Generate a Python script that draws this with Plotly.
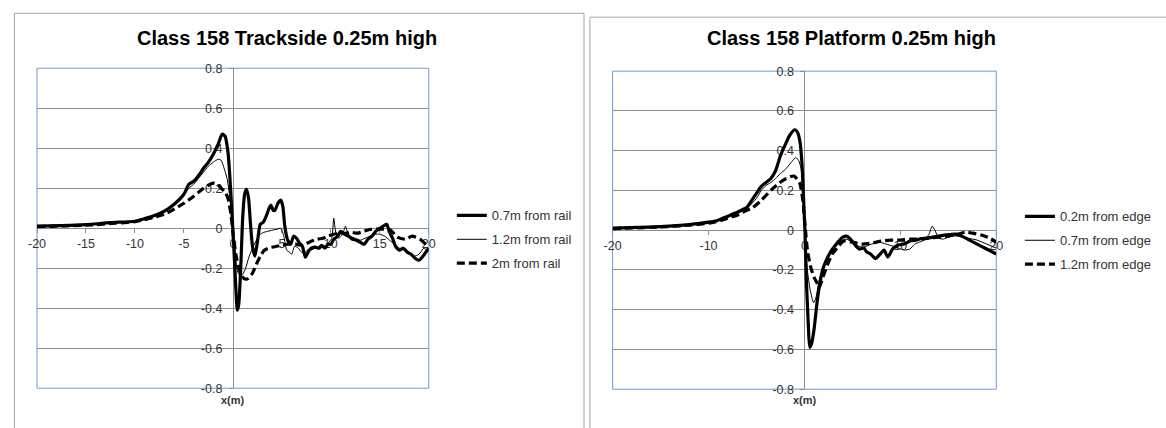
import plotly.graph_objects as go

W, H = 1166, 428

# ---------------- Trackside, 0.25 m high ----------------
ts_x_07 = [-20, -17.5, -15, -12.5, -10, -9, -8, -7, -6, -5, -4.5, -4, -3.4, -3, -2.5, -2, -1.5, -1.1,
           -0.8, -0.5, -0.3, -0.1, 0.1, 0.3, 0.45, 0.6, 0.8, 1.0, 1.2, 1.4, 1.6, 1.8, 2.0, 2.25, 2.5,
           2.8, 3.1, 3.4, 3.7, 3.9, 4.1, 4.3, 4.6, 4.9, 5.1, 5.3, 5.6, 5.9, 6.2, 6.5, 6.8, 7.1, 7.4,
           7.8, 8.1, 8.4, 8.8, 9.1, 9.4, 9.7, 10.0, 10.3, 10.7, 11.0, 11.4, 11.8, 12.2, 12.6, 13.0,
           13.4, 13.8, 14.2, 14.6, 15.0, 15.4, 15.7, 16.0, 16.3, 16.6, 17.0, 17.4, 17.8, 18.2, 18.6,
           19.0, 19.4, 19.7, 20.0]
ts_y_07 = [0.010, 0.013, 0.018, 0.028, 0.035, 0.048, 0.063, 0.085, 0.120, 0.170, 0.220, 0.235, 0.270,
           0.300, 0.330, 0.370, 0.420, 0.470, 0.460, 0.380, 0.250, 0.080, -0.100, -0.300, -0.410,
           -0.380, -0.200, 0.050, 0.170, 0.195, 0.150, 0.020, -0.090, -0.140, -0.070, 0.020, 0.030,
           0.060, 0.100, 0.115, 0.090, 0.090, 0.125, 0.140, 0.110, 0.010, -0.060, -0.080, -0.040,
           -0.050, -0.075, -0.090, -0.145, -0.110, -0.100, -0.095, -0.100, -0.087, -0.100, -0.080,
           -0.080, -0.055, -0.040, -0.015, -0.030, -0.040, -0.055, -0.060, -0.070, -0.080, -0.055,
           -0.040, -0.015, 0.000, 0.012, 0.020, -0.020, -0.050, -0.090, -0.110, -0.100, -0.120,
           -0.130, -0.150, -0.160, -0.140, -0.120, -0.100]

ts_x_12 = [-20, -15, -12, -10, -9, -8, -7, -6, -5, -4.5, -4, -3.5, -3, -2.5, -2, -1.5, -1.2, -0.9,
           -0.6, -0.3, 0, 0.2, 0.35, 0.5, 0.8, 1.0, 1.3, 1.6, 2.0, 2.4, 2.8, 3.2, 3.6, 4.0, 4.5, 4.9,
           5.2, 5.5, 5.8, 6.0, 6.3, 6.7, 7.0, 7.4, 7.8, 8.2, 8.6, 9.0, 9.4, 9.8, 10.1, 10.3, 10.5, 10.8,
           11.2, 11.5, 11.7, 12.0, 12.5, 13.0, 13.5, 14.0, 14.5, 15.0, 15.5, 16.0, 16.5, 17.0, 17.5,
           18.0, 18.5, 19.0, 19.5, 20.0]
ts_y_12 = [0.010, 0.018, 0.028, 0.035, 0.048, 0.060, 0.085, 0.115, 0.165, 0.200, 0.220, 0.250, 0.280,
           0.310, 0.330, 0.345, 0.340, 0.300, 0.250, 0.150, 0.000, -0.100, -0.180, -0.220, -0.240,
           -0.230, -0.200, -0.150, -0.100, -0.060, -0.030, -0.020, -0.015, -0.010, -0.005, 0.000,
           -0.040, -0.110, -0.120, -0.130, -0.090, -0.100, -0.120, -0.120, -0.100, -0.090, -0.100,
           -0.080, -0.090, -0.070, -0.050, 0.050, -0.020, -0.050, -0.030, 0.010, -0.020, -0.040,
           -0.050, -0.060, -0.050, -0.040, -0.030, -0.030, -0.040, -0.060, -0.080, -0.100, -0.100,
           -0.120, -0.140, -0.130, -0.100, -0.120]

ts_x_20 = [-20, -15, -12, -10, -9, -8, -7, -6, -5, -4, -3, -2.5, -2, -1.6, -1.2, -0.8, -0.5, -0.2, 0,
           0.3, 0.6, 1.0, 1.3, 1.6, 2.0, 2.4, 2.8, 3.2, 3.6, 4.0, 5.0, 5.6, 6.4, 7.1, 8.0, 8.6, 9.2,
           9.7, 10.3, 10.8, 11.5, 12.0, 12.7, 13.1, 13.7, 14.2, 15.3, 16.1, 16.8, 17.6, 18.3, 19.1,
           19.8, 20.0]
ts_y_20 = [0.008, 0.015, 0.025, 0.033, 0.043, 0.055, 0.070, 0.095, 0.125, 0.160, 0.200, 0.215, 0.225,
           0.220, 0.200, 0.180, 0.150, 0.070, -0.020, -0.130, -0.200, -0.245, -0.255, -0.250, -0.225,
           -0.180, -0.140, -0.110, -0.100, -0.095, -0.085, -0.080, -0.080, -0.085, -0.065, -0.055,
           -0.050, -0.040, -0.030, -0.025, -0.025, -0.020, -0.025, -0.020, -0.010, -0.005, -0.005,
           -0.010, -0.045, -0.055, -0.040, -0.055, -0.085, -0.090]

# ---------------- Platform, 0.25 m high ----------------
pf_x_02 = [-20, -15, -12, -10, -9, -8, -7, -6, -5.5, -5, -4.5, -4, -3.5, -3, -2.5, -2, -1.5, -1, -0.7,
           -0.45, -0.25, -0.1, 0.05, 0.2, 0.4, 0.55, 0.75, 1.0, 1.3, 1.6, 1.9, 2.2, 2.6, 3.0, 3.5, 4.0,
           4.4, 4.8, 5.2, 5.7, 6.2, 6.5, 6.9, 7.4, 7.9, 8.3, 8.7, 9.2, 9.8, 10.4, 11.0, 11.6, 12.2,
           12.8, 13.4, 14.0, 14.6, 15.2, 15.8, 16.4, 17.0, 17.6, 18.2, 18.8, 19.4, 20.0]
pf_y_02 = [0.010, 0.018, 0.028, 0.040, 0.050, 0.070, 0.090, 0.115, 0.150, 0.185, 0.220, 0.240, 0.260,
           0.300, 0.375, 0.430, 0.480, 0.505, 0.490, 0.440, 0.330, 0.170, 0.000, -0.250, -0.470,
           -0.590, -0.570, -0.500, -0.370, -0.270, -0.200, -0.160, -0.120, -0.090, -0.060, -0.035,
           -0.030, -0.045, -0.070, -0.095, -0.090, -0.110, -0.120, -0.143, -0.120, -0.100, -0.135,
           -0.094, -0.075, -0.070, -0.055, -0.050, -0.042, -0.040, -0.035, -0.030, -0.025, -0.022,
           -0.020, -0.030, -0.045, -0.060, -0.075, -0.090, -0.105, -0.120]

pf_x_07 = [-20, -15, -12, -10, -9, -8, -7, -6, -5, -4.5, -4, -3.5, -3, -2.5, -2, -1.4, -0.9, -0.6,
           -0.35, -0.1, 0.1, 0.3, 0.6, 0.95, 1.2, 1.5, 2.0, 2.7, 3.4, 4.3, 5.0, 5.6, 6.2, 7.0, 7.8,
           8.5, 9.2, 9.8, 10.4, 11.0, 11.5, 12.0, 12.5, 13.0, 13.3, 13.6, 14.0, 14.5, 15.0, 15.5,
           16.0, 17.0, 18.0, 19.0, 20.0]
pf_y_07 = [0.010, 0.018, 0.027, 0.038, 0.048, 0.065, 0.085, 0.110, 0.160, 0.200, 0.225, 0.240, 0.260,
           0.285, 0.305, 0.340, 0.365, 0.350, 0.310, 0.170, -0.050, -0.200, -0.300, -0.365, -0.340,
           -0.260, -0.180, -0.120, -0.070, -0.045, -0.060, -0.080, -0.085, -0.070, -0.060, -0.070,
           -0.080, -0.090, -0.100, -0.095, -0.070, -0.060, -0.050, -0.020, 0.020, 0.000, -0.040,
           -0.045, -0.035, -0.030, -0.030, -0.040, -0.050, -0.070, -0.090]

pf_x_12 = [-20, -15, -12, -10, -9, -8, -7, -6, -5.5, -4.5, -3.4, -2.6, -1.9, -1.1, -0.5, -0.17, 0.07,
           0.34, 0.68, 1.03, 1.37, 1.54, 1.9, 2.4, 2.9, 3.6, 4.1, 5.0, 6.0, 7.0, 8.0, 9.0, 10.0, 11.0,
           12.0, 13.0, 14.0, 15.0, 16.0, 16.8, 17.5, 18.5, 19.3, 20.0]
pf_y_12 = [0.008, 0.016, 0.025, 0.035, 0.045, 0.060, 0.075, 0.100, 0.110, 0.150, 0.205, 0.238, 0.260,
           0.272, 0.238, 0.150, 0.020, -0.110, -0.190, -0.240, -0.270, -0.290, -0.240, -0.175,
           -0.120, -0.078, -0.055, -0.060, -0.070, -0.065, -0.055, -0.050, -0.050, -0.045, -0.045,
           -0.040, -0.035, -0.030, -0.020, -0.010, -0.015, -0.025, -0.040, -0.060]

# Axis ticks
ts_x_ticks = [-20, -15, -10, -5, 0, 5, 10, 15, 20]
ts_x_labels = ["-20", "-15", "-10", "-5", "0", "5", "10", "15", "20"]
pf_x_ticks = [-20, -10, 0, 10, 20]
pf_x_labels = ["-20", "-10", "0", "10", "20"]
y_ticks = [-0.8, -0.6, -0.4, -0.2, 0, 0.2, 0.4, 0.6, 0.8]
y_labels = ["-0.8", "-0.6", "-0.4", "-0.2", "0", "0.2", "0.4", "0.6", "0.8"]

titles = ["Class 158 Trackside 0.25m high", "Class 158 Platform 0.25m high"]
ts_names = ["0.7m from rail", "1.2m from rail", "2m from rail"]
pf_names = ["0.2m from edge", "0.7m from edge", "1.2m from edge"]


def px(p):
    return p / W


def py(p):
    return 1 - p / H


FONT = "Liberation Sans"
TXT = "#333333"
GRID = "#8c8c8c"
BLUE = "#6d9bd2"

styles = [dict(width=3.2, color="black"),
          dict(width=1, color="black"),
          dict(width=3.2, color="black", dash="8px,4px")]

fig = go.Figure()

panels = [
    ("x", "y", "legend", [(ts_x_07, ts_y_07), (ts_x_12, ts_y_12), (ts_x_20, ts_y_20)], ts_names),
    ("x2", "y2", "legend2", [(pf_x_02, pf_y_02), (pf_x_07, pf_y_07), (pf_x_12, pf_y_12)], pf_names),
]
for xa, ya, lg, series, names in panels:
    for i, ((xs, ys), nm) in enumerate(zip(series, names)):
        fig.add_trace(go.Scatter(
            x=xs, y=ys, mode="lines", name=nm, xaxis=xa, yaxis=ya, legend=lg,
            legendgroup=f"{lg}_{i}", line=dict(shape="spline", smoothing=0.6, **styles[i]),
            hoverinfo="skip"))


def xaxis_cfg(left, right, zero_y, ticks, labels):
    return dict(domain=[px(left), px(right)], range=[-20, 20], anchor="free", position=py(zero_y),
                tickvals=ticks, ticktext=labels, ticks="outside", ticklen=4, tickcolor=GRID,
                showline=True, linecolor=GRID, linewidth=1, showgrid=False, zeroline=False,
                layer="below traces", tickfont=dict(family=FONT, size=12.5, color=TXT),
                fixedrange=True)


def yaxis_cfg(top, bottom, zero_x):
    return dict(domain=[py(bottom), py(top)], range=[-0.8, 0.8], anchor="free", position=px(zero_x),
                tickvals=y_ticks, ticktext=y_labels, ticks="outside", ticklen=4, tickcolor=GRID,
                showline=True, linecolor=GRID, linewidth=1, showgrid=True, gridcolor=GRID,
                gridwidth=1, zeroline=False, layer="below traces", ticklabelstandoff=4,
                tickfont=dict(family=FONT, size=12.5, color=TXT), fixedrange=True)


legend_common = dict(xanchor="left", yanchor="top", bgcolor="rgba(0,0,0,0)", borderwidth=0,
                     font=dict(family=FONT, size=13, color=TXT), traceorder="grouped",
                     tracegroupgap=4, itemclick=False, itemdoubleclick=False)

fig.update_layout(
    width=W, height=H, margin=dict(l=0, r=0, t=0, b=0),
    paper_bgcolor="white", plot_bgcolor="white", showlegend=True,
    xaxis=xaxis_cfg(28.4, 425.6, 228.7, ts_x_ticks, ts_x_labels),
    yaxis=yaxis_cfg(63.3, 394.1, 227),
    xaxis2=xaxis_cfg(612, 1001, 230.7, pf_x_ticks, pf_x_labels),
    yaxis2=yaxis_cfg(66.3, 395.1, 806.5),
    legend=dict(x=px(449), y=py(200), **legend_common),
    legend2=dict(x=px(1025), y=py(201), **legend_common),
)

# Chart-area frames and plot-area borders
fig.add_shape(type="rect", xref="paper", yref="paper", x0=px(5.5), x1=px(583), y0=py(440), y1=py(6.5),
              line=dict(color="#a6a6a6", width=1), layer="below")
fig.add_shape(type="rect", xref="paper", yref="paper", x0=px(589), x1=px(1180), y0=py(440), y1=py(10.5),
              line=dict(color="#a6a6a6", width=1), layer="below")
for xa, ya in (("x", "y"), ("x2", "y2")):
    fig.add_shape(type="rect", xref=f"{xa} domain", yref=f"{ya} domain", x0=0, x1=1, y0=0, y1=1,
                  line=dict(color=BLUE, width=1), layer="below")

# Titles and x-axis captions
for cx, t in zip((282, 854), titles):
    fig.add_annotation(text=f"<b>{t}</b>", xref="paper", yref="paper", x=px(cx), y=py(32),
                       xanchor="center", yanchor="middle", showarrow=False,
                       font=dict(family=FONT, size=20, color="black"))
for cx in (227, 807):
    fig.add_annotation(text="<b>x(m)</b>", xref="paper", yref="paper", x=px(cx), y=py(406),
                       xanchor="center", yanchor="middle", showarrow=False,
                       font=dict(family=FONT, size=11, color=TXT))

fig.write_html("out.html")
